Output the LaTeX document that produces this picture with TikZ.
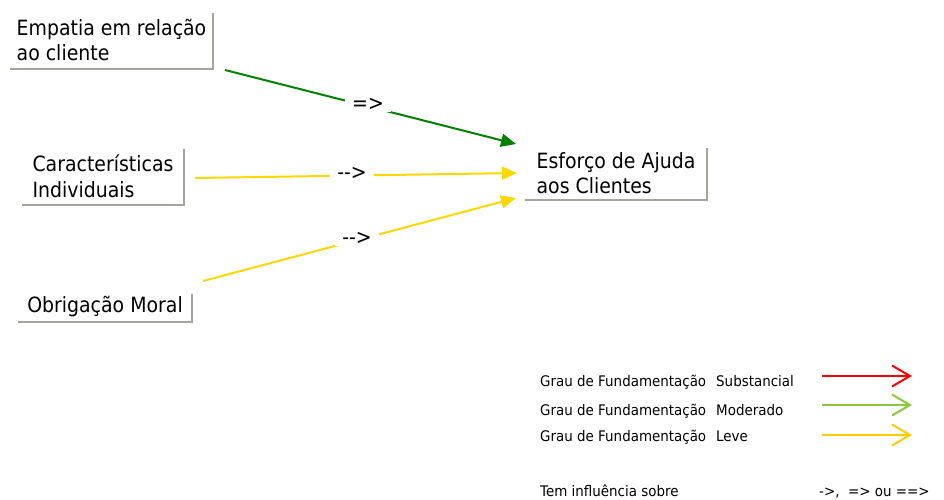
\documentclass[tikz,border=0pt]{standalone}
\usepackage{fontspec}
\setmainfont{DejaVu Sans}
\newfontfamily\mainf{DejaVu Sans}[FakeStretch=0.9]
\newfontfamily\legf{DejaVu Sans}[FakeStretch=0.92]
\usetikzlibrary{arrows.meta}
\definecolor{darkgr}{RGB}{0,128,0}
\definecolor{gold}{RGB}{255,215,0}
\definecolor{legred}{RGB}{255,0,0}
\definecolor{leggreen}{RGB}{140,200,60}
\definecolor{leggold}{RGB}{255,204,0}
\definecolor{shade}{RGB}{165,165,160}
\tikzset{
  concept/.style={inner sep=0pt, align=left, font=\mainf\fontsize{21}{25.5}\selectfont},
  shadowline/.style={draw=shade, line width=1.6pt},
  rel/.style={line width=2pt, -{Triangle[length=15pt,width=13pt]}},
  rellabel/.style={fill=white, inner xsep=7pt, inner ysep=2pt, font=\mainf\fontsize{21}{22}\selectfont},
  legtext/.style={anchor=base west, inner sep=0pt, font=\legf\fontsize{14.6}{16}\selectfont},
  legarrow/.style={line width=2pt, -{Straight Barb[length=18pt,width=21pt,line width=2pt]}}
}
\begin{document}
\begin{tikzpicture}[x=1pt,y=-1pt]
\useasboundingbox (0,0) rectangle (944,499);
% concepts
\node[concept, minimum width=203pt, minimum height=58pt] (emp) at (111.5,40) {Empatia em relação\\ao cliente};
\node[concept, minimum width=162pt, minimum height=58pt] (car) at (103,176) {Características\\Individuais};
\node[concept, minimum width=174pt, minimum height=30pt] (obr) at (105,307) {Obrigação Moral};
\node[concept, minimum width=182pt, minimum height=54pt] (esf) at (616,173) {Esforço de Ajuda\\aos Clientes};
\foreach \n in {emp,car,obr,esf}{
  \draw[shadowline] ([yshift=-2pt]\n.north east) -- (\n.south east) -- (\n.south west);
}
% connectors
\coordinate (s1) at (225,70);  \coordinate (t1) at (516,144);
\coordinate (s2) at (195,178); \coordinate (t2) at (517,173);
\coordinate (s3) at (203,281); \coordinate (t3) at (516,198);
\draw[rel, darkgr] (s1) -- (t1);
\draw[rel, gold] (s2) -- (t2);
\draw[rel, gold] (s3) -- (t3);
\node[rellabel] (l1) at (368,104) {=>};
\node[rellabel] (l2) at (352,173) {-{}->};
\node[rellabel] (l3) at (357,238) {-{}->};
% legend
\node[legtext] (g1) at (540,386.5) {Grau de Fundamentação};
\node[legtext] (g2) at (540,415.5) {Grau de Fundamentação};
\node[legtext] (g3) at (540,441) {Grau de Fundamentação};
\node[legtext] (v1) at (716,386.5) {Substancial};
\node[legtext] (v2) at (716,415.5) {Moderado};
\node[legtext] (v3) at (716,441) {Leve};
\coordinate (a1s) at (822,376); \coordinate (a1e) at (912,376);
\coordinate (a2s) at (822,405); \coordinate (a2e) at (912,405);
\coordinate (a3s) at (822,435); \coordinate (a3e) at (912,435);
\draw[legarrow, legred] (a1s) -- (a1e);
\draw[legarrow, leggreen] (a2s) -- (a2e);
\draw[legarrow, leggold] (a3s) -- (a3e);
\node[legtext] (tem) at (540,496) {Tem influência sobre};
\node[legtext] (sym) at (819,496) {-{}>,\ \ =>\ ou\ =={}>};
\end{tikzpicture}
\end{document}
